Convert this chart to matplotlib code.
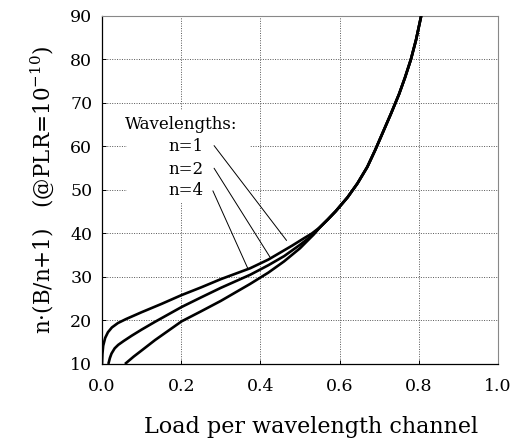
import matplotlib
matplotlib.use('Agg')
import matplotlib.pyplot as plt
from matplotlib.patches import Rectangle

plt.rcParams['font.family'] = ['DejaVu Serif']
plt.rcParams['mathtext.fontset'] = 'dejavuserif'

# shared upper part of the curves (all n overlap here)
common_x = [0.55, 0.57, 0.59, 0.62, 0.645, 0.67, 0.69, 0.71, 0.73, 0.75, 0.765, 0.78, 0.793, 0.806]
common_y = [41.4, 43.2, 45.1, 48.3, 51.5, 55.3, 59.2, 63.4, 67.6, 72.0, 75.8, 80.0, 84.5, 90.0]

# lower parts, one per number of wavelengths
n1_x = [0.0, 0.001, 0.003, 0.008, 0.015, 0.025, 0.04, 0.06, 0.08, 0.10, 0.15, 0.20, 0.25, 0.30, 0.374, 0.42, 0.45, 0.48, 0.51, 0.53]
n1_y = [10.0, 12.3, 14.2, 16.0, 17.3, 18.4, 19.4, 20.3, 21.1, 21.9, 23.8, 25.8, 27.6, 29.5, 32.0, 34.0, 35.6, 37.2, 38.9, 40.0]
n2_x = [0.016, 0.020, 0.024, 0.032, 0.041, 0.055, 0.075, 0.10, 0.134, 0.201, 0.25, 0.30, 0.374, 0.42, 0.46, 0.50, 0.53]
n2_y = [10.0, 11.4, 12.4, 13.6, 14.4, 15.3, 16.5, 17.9, 19.7, 23.1, 25.3, 27.5, 30.5, 32.7, 34.8, 37.4, 39.5]
n4_x = [0.058, 0.08, 0.10, 0.134, 0.201, 0.25, 0.30, 0.374, 0.42, 0.46, 0.50, 0.535]
n4_y = [10.0, 11.7, 13.1, 15.5, 19.8, 22.1, 24.5, 28.4, 31.0, 33.6, 36.6, 39.8]

labels = ['n=1', 'n=2', 'n=4']
label_y = [60.0, 54.8, 49.9]
line_start = [(0.283, 60.2), (0.283, 55.0), (0.280, 49.8)]
line_end = [(0.466, 38.4), (0.424, 34.6), (0.368, 32.0)]

fig = plt.figure(figsize=(5.16, 4.38), dpi=100)
ax = fig.add_axes([0.1977, 0.169, 0.7674, 0.7945])
ax.set_axisbelow(True)

# white area behind the legend text (hides the grid there)
ax.add_patch(Rectangle((0.063, 47.0), 0.31, 21.5, facecolor='white', edgecolor='none', zorder=1))

for xs, ys in [(n1_x, n1_y), (n2_x, n2_y), (n4_x, n4_y)]:
    ax.plot(xs + common_x, ys + common_y, color='black', lw=1.9, zorder=3,
            solid_capstyle='butt', solid_joinstyle='round')

ax.text(0.2, 65.0, 'Wavelengths:', ha='center', va='center', fontsize=12, zorder=4)
for lab, ly, p0, p1 in zip(labels, label_y, line_start, line_end):
    ax.text(0.256, ly, lab, ha='right', va='center', fontsize=12, zorder=4)
    ax.annotate('', xy=p1, xytext=p0, zorder=4,
                arrowprops=dict(arrowstyle='-', color='black', lw=0.7, shrinkA=0, shrinkB=0))

ax.set_xlim(0, 1.0)
ax.set_ylim(10, 90)
ax.set_xticks([0.0, 0.2, 0.4, 0.6, 0.8, 1.0])
ax.set_xticklabels(['0.0', '0.2', '0.4', '0.6', '0.8', '1.0'])
ax.set_yticks(range(10, 91, 10))
ax.grid(True, linestyle=(0, (1, 1.5)), color='#555555', lw=0.7)
ax.tick_params(direction='in', length=3, width=0.7, labelsize=12.5)
ax.tick_params(axis='x', pad=10)
ax.tick_params(axis='y', pad=7)
for s in ['top', 'right']:
    ax.spines[s].set_color('#888888')
    ax.spines[s].set_linewidth(0.8)
for s in ['left', 'bottom']:
    ax.spines[s].set_linewidth(0.9)

ax.set_xlabel('Load per wavelength channel', fontsize=16)
ax.xaxis.set_label_coords(0.529, -0.15)
ax.set_ylabel('n\u00b7(B/n+1)   (@PLR=10$^{-10}$)', fontsize=15.5, labelpad=10)

fig.savefig('out.png', dpi=100)
